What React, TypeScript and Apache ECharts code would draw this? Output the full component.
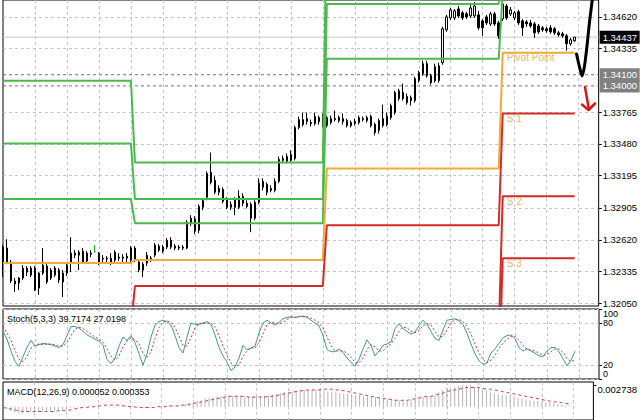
import React, { useEffect, useRef } from "react";
import * as echarts from "echarts";

// ---------------- data ----------------
const opens = [
  1.32411, 1.32545, 1.3242, 1.3225, 1.32232, 1.32277, 1.3233, 1.32303, 1.32366, 1.32187,
  1.32321, 1.32384, 1.32277, 1.32303, 1.32348, 1.32321, 1.32321, 1.3242, 1.32482, 1.32482,
  1.3242, 1.32429, 1.325, 1.32518, 1.325, 1.32447, 1.32455, 1.3242, 1.32438, 1.32464,
  1.32455, 1.32455, 1.32438, 1.32545, 1.3242, 1.32348, 1.32411, 1.32455, 1.32482, 1.32527,
  1.32554, 1.32554, 1.32616, 1.32563, 1.32554, 1.32545, 1.32545, 1.32768, 1.32804, 1.32706,
  1.32911, 1.33001, 1.33224, 1.33153, 1.33046, 1.33072, 1.32983, 1.32911, 1.32974, 1.32911,
  1.32947, 1.32947, 1.32938, 1.32813, 1.32956, 1.3309, 1.33117, 1.33063, 1.33063, 1.33144,
  1.33332, 1.33323, 1.33332, 1.33349, 1.33627, 1.33653, 1.3368, 1.33671, 1.33662, 1.33716,
  1.33725, 1.33644, 1.33671, 1.33707, 1.33716, 1.3368, 1.33689, 1.33671, 1.33662, 1.33671,
  1.33698, 1.33689, 1.33725, 1.33653, 1.336, 1.33644, 1.33653, 1.33716, 1.33761, 1.33886,
  1.3394, 1.33904, 1.33895, 1.33868, 1.34047, 1.34109, 1.34199, 1.34091, 1.34172, 1.34047,
  1.34208, 1.34503, 1.3461, 1.3461, 1.3469, 1.34655, 1.34646, 1.34628, 1.34628, 1.34637,
  1.34583, 1.34619, 1.34556, 1.34646, 1.34565, 1.34601, 1.34717, 1.34646, 1.3461, 1.34664,
  1.34583, 1.34574, 1.34565, 1.34556, 1.34538, 1.34521, 1.34512, 1.34521, 1.34512, 1.34476,
  1.34467, 1.34449, 1.34378, 1.34404,
];
const closes = [
  1.32554, 1.3242, 1.3225, 1.32223, 1.32277, 1.32366, 1.32366, 1.32366, 1.32169, 1.32321,
  1.32393, 1.32241, 1.32348, 1.32366, 1.32259, 1.32241, 1.32393, 1.325, 1.325, 1.32509,
  1.32518, 1.325, 1.32491, 1.32518, 1.3242, 1.32455, 1.32447, 1.32455, 1.32509, 1.32455,
  1.32464, 1.32473, 1.32545, 1.32438, 1.32348, 1.32402, 1.32482, 1.32447, 1.32572, 1.32563,
  1.32518, 1.32616, 1.32554, 1.32545, 1.32545, 1.32554, 1.32777, 1.32813, 1.32697, 1.3292,
  1.32974, 1.33215, 1.33135, 1.33046, 1.33081, 1.32965, 1.32911, 1.32938, 1.32911, 1.3301,
  1.3301, 1.3292, 1.32813, 1.32956, 1.33126, 1.33144, 1.33046, 1.33081, 1.33144, 1.33341,
  1.33349, 1.33367, 1.33385, 1.33627, 1.33698, 1.33698, 1.33707, 1.33662, 1.33725, 1.3368,
  1.33653, 1.33716, 1.33707, 1.33698, 1.33689, 1.33707, 1.33644, 1.33644, 1.3368, 1.33716,
  1.33707, 1.33716, 1.33644, 1.33582, 1.33689, 1.33707, 1.33725, 1.33823, 1.3394, 1.33957,
  1.33886, 1.3385, 1.33868, 1.34065, 1.34118, 1.34199, 1.34091, 1.34029, 1.34047, 1.34181,
  1.34512, 1.34619, 1.34682, 1.34673, 1.34628, 1.3461, 1.34619, 1.34699, 1.34717, 1.34521,
  1.34521, 1.34565, 1.34646, 1.34556, 1.34449, 1.34735, 1.3461, 1.34682, 1.34655, 1.34565,
  1.34521, 1.34556, 1.34538, 1.34476, 1.34485, 1.34503, 1.34494, 1.34485, 1.34476, 1.34458,
  1.34449, 1.34378, 1.34413, 1.34437,
];
const lows = [
  1.32286, 1.32402, 1.32232, 1.32152, 1.32169, 1.32259, 1.32295, 1.32286, 1.3216, 1.32125,
  1.32303, 1.32223, 1.32259, 1.32286, 1.32232, 1.32107, 1.32295, 1.3233, 1.32455, 1.32348,
  1.32411, 1.32411, 1.32464, 1.325, 1.32393, 1.3242, 1.3242, 1.32393, 1.3242, 1.32429,
  1.3242, 1.3242, 1.3242, 1.3242, 1.3233, 1.32286, 1.32384, 1.3242, 1.32464, 1.32509,
  1.325, 1.32536, 1.32536, 1.32527, 1.32527, 1.32527, 1.32536, 1.32742, 1.3267, 1.32679,
  1.32885, 1.32974, 1.33117, 1.33028, 1.33019, 1.32947, 1.32894, 1.32885, 1.3284, 1.32894,
  1.3292, 1.32902, 1.32688, 1.32795, 1.32938, 1.33063, 1.33019, 1.33046, 1.33046, 1.33126,
  1.33305, 1.33305, 1.33314, 1.33332, 1.33609, 1.33636, 1.33653, 1.33636, 1.33644, 1.33653,
  1.33627, 1.33627, 1.33653, 1.3368, 1.33671, 1.33653, 1.33627, 1.33627, 1.33644, 1.33653,
  1.3368, 1.33671, 1.33627, 1.33555, 1.33573, 1.33627, 1.33636, 1.33698, 1.33743, 1.33868,
  1.33868, 1.33832, 1.33823, 1.3385, 1.34029, 1.34091, 1.34074, 1.34011, 1.34029, 1.34029,
  1.3419, 1.34485, 1.34592, 1.34592, 1.3461, 1.34592, 1.34601, 1.3461, 1.3461, 1.34503,
  1.34449, 1.34547, 1.34538, 1.34538, 1.34422, 1.34583, 1.34592, 1.34628, 1.34592, 1.34547,
  1.34449, 1.3453, 1.34521, 1.34431, 1.34467, 1.34485, 1.34476, 1.34467, 1.34458, 1.3444,
  1.34431, 1.34315, 1.3436, 1.34395,
];
const highs = [
  1.32572, 1.32625, 1.32438, 1.32277, 1.32286, 1.32393, 1.32384, 1.32384, 1.32384, 1.3233,
  1.32545, 1.32402, 1.32366, 1.32384, 1.32366, 1.32348, 1.3242, 1.32643, 1.32527, 1.32527,
  1.32545, 1.32518, 1.32527, 1.32572, 1.32509, 1.32482, 1.32473, 1.325, 1.32527, 1.325,
  1.32491, 1.325, 1.32563, 1.32563, 1.32438, 1.3242, 1.32509, 1.32473, 1.3259, 1.32581,
  1.32572, 1.32634, 1.32643, 1.32581, 1.32572, 1.32572, 1.32795, 1.3284, 1.32831, 1.32938,
  1.32992, 1.33233, 1.33403, 1.33189, 1.33108, 1.3309, 1.33001, 1.32965, 1.33001, 1.33063,
  1.33037, 1.32974, 1.32956, 1.32974, 1.33171, 1.33171, 1.33135, 1.33108, 1.33171, 1.33367,
  1.33376, 1.33394, 1.33421, 1.33644, 1.33725, 1.33761, 1.33761, 1.33698, 1.33761, 1.33734,
  1.33752, 1.33734, 1.33734, 1.33779, 1.33734, 1.33752, 1.33707, 1.33689, 1.33707, 1.33734,
  1.33725, 1.33734, 1.33743, 1.33671, 1.33707, 1.33832, 1.33761, 1.33841, 1.33957, 1.33975,
  1.3402, 1.33931, 1.33913, 1.34083, 1.34136, 1.34226, 1.34226, 1.34109, 1.34199, 1.34208,
  1.3453, 1.34637, 1.34699, 1.3469, 1.34717, 1.34673, 1.34664, 1.34726, 1.34753, 1.34673,
  1.34601, 1.34637, 1.34664, 1.34664, 1.34583, 1.34762, 1.34735, 1.34708, 1.34673, 1.34682,
  1.34601, 1.34592, 1.34592, 1.34574, 1.34556, 1.34538, 1.3453, 1.34547, 1.3453, 1.34494,
  1.34485, 1.34467, 1.34431, 1.3444,
];
const greenDojiBars = [23];

// daily pivot levels (day 1..4) and the bar where each day starts
const dayStarts = [0, 33, 81, 125];
const levelR3 = [1.34047, 1.33314, 1.356, 1.365];
const levelR2 = [1.33484, 1.32985, 1.34735, 1.3539];
const levelR1 = [1.32985, 1.32768, 1.34243, 1.34843];
const levelP = [1.32411, 1.32438, 1.3326, 1.34297];
const levelS1 = [1.31833, 1.32205, 1.3275, 1.33752];
const levelS2 = [1.313, 1.317, 1.31767, 1.3301];
const levelS3 = [1.308, 1.312, 1.313, 1.32455];
const levelNames = ["Pivot Point", "S 1", "S 2", "S 3"];

// user drawn horizontal levels
const userLevels = [1.341, 1.34];

// axis tick labels
const priceTicks = [1.3205, 1.32335, 1.3262, 1.32905, 1.33195, 1.3348, 1.33765, 1.34335, 1.3462];
const stochTicks = [0, 20, 80, 100];
const macdTicks = [0.002738];

// Stochastic (5,3,3)
const stochK = [
  68, 57, 40, 25, 18, 32, 45, 55, 47, 49, 51, 50, 49, 47, 45, 49, 62, 75, 75, 73,
  68, 63, 60, 57, 54, 48, 28, 22, 30, 47, 60, 55, 62, 52, 36, 20, 36, 60, 77, 82,
  84, 82, 77, 62, 45, 37, 60, 80, 78, 78, 80, 82, 78, 63, 45, 33, 24, 12, 17, 30,
  48, 42, 44, 47, 66, 80, 84, 80, 77, 81, 86, 88, 89, 88, 89, 90, 88, 84, 80, 76,
  62, 42, 39, 39, 43, 38, 30, 24, 18, 28, 43, 56, 48, 33, 40, 48, 50, 53, 72, 79,
  72, 68, 64, 67, 76, 84, 78, 68, 58, 55, 70, 84, 85, 86, 83, 78, 65, 50, 36, 26,
  21, 23, 37, 43, 51, 59, 62, 63, 58, 45, 40, 43, 40, 37, 33, 32, 40, 45, 45, 39,
  29, 19, 27, 39.7174,
];
const stochD = [
  75, 66, 55, 41, 28, 25, 32, 44, 49, 50, 49, 50, 50, 49, 47, 47, 52, 62, 71, 74,
  72, 68, 64, 60, 57, 53, 43, 33, 27, 33, 46, 54, 59, 56, 50, 36, 31, 39, 58, 73,
  81, 83, 81, 74, 61, 48, 47, 59, 73, 79, 79, 80, 80, 74, 62, 47, 34, 23, 18, 20,
  32, 40, 45, 44, 52, 64, 77, 81, 80, 79, 81, 85, 88, 88, 89, 89, 89, 87, 84, 80,
  73, 60, 48, 40, 40, 40, 37, 31, 24, 23, 30, 42, 49, 46, 40, 40, 46, 50, 58, 68,
  74, 73, 68, 66, 69, 76, 79, 77, 68, 60, 61, 70, 80, 85, 85, 82, 75, 64, 50, 37,
  28, 23, 27, 34, 44, 51, 57, 61, 61, 55, 48, 43, 41, 40, 37, 34, 35, 39, 43, 43,
  38, 29, 25, 27.0198,
];

// MACD (12,26,9)
const macdMain = [
  -0.0002, -0.0003, -0.0005, -0.0007, -0.0008, -0.0008, -0.0007, -0.0006, -0.0007, -0.0007,
  -0.0006, -0.0006, -0.0006, -0.0005, -0.0005, -0.0005, -0.0004, -0.0002, -0.0001, -0.0001,
  0, 0, 0, 0.0001, 0, 0, 0, -0.0001, -0.0001, 0,
  0, 0, 0.0001, 0, -0.0001, -0.0002, -0.0002, -0.0001, 0, 0,
  0, 0.0001, 0.0001, 0.0001, 0.0001, 0.0001, 0.0003, 0.0004, 0.0005, 0.0007,
  0.0008, 0.001, 0.0011, 0.0012, 0.0013, 0.0013, 0.0013, 0.0014, 0.0014, 0.0014,
  0.0014, 0.0013, 0.0013, 0.0013, 0.0013, 0.0013, 0.0014, 0.0014, 0.0015, 0.0016,
  0.0017, 0.0018, 0.0018, 0.0019, 0.002, 0.002, 0.0021, 0.0021, 0.0021, 0.0021,
  0.002, 0.002, 0.0019, 0.0019, 0.0018, 0.0017, 0.0017, 0.0016, 0.0016, 0.0015,
  0.0015, 0.0014, 0.0013, 0.0012, 0.0012, 0.0011, 0.0011, 0.001, 0.001, 0.0009,
  0.0008, 0.0007, 0.0008, 0.0009, 0.001, 0.0011, 0.0012, 0.0012, 0.0013, 0.0014,
  0.0018, 0.0021, 0.0023, 0.0024, 0.0025, 0.0026, 0.0026, 0.0027, 0.002738, 0.0025,
  0.0023, 0.0022, 0.002, 0.0019, 0.0017, 0.0016, 0.0015, 0.0014, 0.0014, 0.0012,
  0.0011, 0.001, 0.0009, 0.0008, 0.0007, 0.0007, 0.0006, 0.0005, 0.0005, 0.0004,
  0.0003, 0.0002, 0.0001, 0.000052,
];
const macdSignal = [
  -0.0001, -0.0002, -0.0003, -0.0004, -0.0005, -0.0006, -0.0006, -0.0006, -0.0006, -0.0006,
  -0.0006, -0.0006, -0.0006, -0.0006, -0.0005, -0.0005, -0.0005, -0.0004, -0.0003, -0.0002,
  -0.0001, -0.0001, 0, 0, 0.0001, 0.0001, 0.0002, 0.0002, 0.0002, 0.0002,
  0.0001, 0.0001, 0, 0, -0.0001, -0.0001, -0.0001, -0.0001, -0.0001, 0,
  0, 0, 0.0001, 0.0001, 0.0001, 0.0002, 0.0002, 0.0003, 0.0004, 0.0005,
  0.0006, 0.0007, 0.0008, 0.0009, 0.001, 0.0011, 0.0012, 0.0013, 0.0013, 0.0013,
  0.0013, 0.0013, 0.0012, 0.0012, 0.0012, 0.0012, 0.0012, 0.0013, 0.0013, 0.0014,
  0.0015, 0.0016, 0.0017, 0.0018, 0.0019, 0.002, 0.002, 0.0021, 0.0021, 0.0021,
  0.0021, 0.0022, 0.0022, 0.0022, 0.0021, 0.0021, 0.002, 0.0019, 0.0018, 0.0017,
  0.0016, 0.0015, 0.0014, 0.0013, 0.0012, 0.0011, 0.001, 0.001, 0.0009, 0.0008,
  0.0008, 0.0008, 0.0008, 0.0009, 0.001, 0.0011, 0.0012, 0.0013, 0.0013, 0.0014,
  0.0016, 0.0017, 0.0019, 0.002, 0.0021, 0.0022, 0.0023, 0.0024, 0.0024, 0.0024,
  0.0024, 0.0023, 0.0022, 0.0022, 0.0021, 0.002, 0.0019, 0.0018, 0.0017, 0.0016,
  0.0015, 0.0014, 0.0013, 0.0012, 0.0011, 0.001, 0.0009, 0.0008, 0.0007, 0.0006,
  0.0006, 0.0005, 0.0004, 0.000353,
];

// ---------------- layout / style ----------------
const SLOTS = 150;
const FONT = "'Liberation Sans', Arial, sans-serif";
const AXIS_FONT = "'Liberation Sans Narrow', 'Arial Narrow', 'Liberation Sans', Arial, sans-serif";
const GRID_LINE = { color: "#c4c4c4", type: [3, 3] as number[], width: 1 };
const GREEN = "#4cb94c";
const ORANGE = "#eeaa3a";
const RED = "#d42a2a";
const LABEL_TAN = "#e2b865";

function dayOf(i: number) {
  let d = 0;
  for (let k = 0; k < dayStarts.length; k++) if (i >= dayStarts[k]) d = k;
  return d;
}

export default function App() {
  const ref = useRef<HTMLDivElement>(null);

  useEffect(() => {
    if (!ref.current) return;
    const chart = echarts.init(ref.current, null, { renderer: "svg" });
    const cats = Array.from({ length: SLOTS }, (_, i) => String(i));
    const last = closes.length - 1;

    const candleData = opens.map((o, i) => {
      const v = [o, closes[i], lows[i], highs[i]];
      if (greenDojiBars.includes(i)) {
        return {
          value: v,
          itemStyle: { color: "#22b022", color0: "#22b022", borderColor: "#22b022", borderColor0: "#22b022" },
        };
      }
      return v;
    });

    const levelData = (vals: number[]) => opens.map((_, i) => vals[dayOf(i)]);
    const lastDay = dayStarts[dayStarts.length - 1] + 1;

    const levelSeries = (vals: number[], color: string, label?: string) => ({
      type: "line",
      xAxisIndex: 0,
      yAxisIndex: 0,
      data: levelData(vals),
      showSymbol: false,
      symbol: "none",
      silent: true,
      clip: true,
      z: 4,
      lineStyle: { color, width: 2 },
      itemStyle: { color },
      markPoint: label
        ? {
            symbol: "circle",
            symbolSize: 0,
            silent: true,
            data: [
              {
                coord: [lastDay, vals[vals.length - 1]],
                label: {
                  show: true,
                  position: "bottom",
                  distance: 0,
                  align: "left",
                  verticalAlign: "top",
                  formatter: label,
                  color: LABEL_TAN,
                  fontSize: 10,
                  fontFamily: FONT,
                },
              },
            ],
          }
        : undefined,
    });

    // horizontal level drawn as a flat line across every slot, with its price tag at the axis
    const hLevelSeries = (value: number, color: string, type: any, tagBg: string) => ({
      type: "line",
      xAxisIndex: 0,
      yAxisIndex: 0,
      data: cats.map(() => value),
      showSymbol: false,
      symbol: "none",
      silent: true,
      z: 2,
      lineStyle: { color, width: 1, type },
      endLabel: {
        show: true,
        distance: 1,
        formatter: value.toFixed(5),
        color: "#fff",
        backgroundColor: tagBg,
        width: 37,
        padding: [2, 0, 1, 3],
        fontSize: 9.5,
        fontFamily: AXIS_FONT,
      },
    });

    const xAxisFor = (gridIndex: number) => ({
      type: "category",
      gridIndex,
      data: cats,
      boundaryGap: false,
      axisLine: { show: false },
      axisTick: { show: false },
      axisLabel: { show: false },
      splitLine: {
        show: true,
        interval: (idx: number) => idx > 0 && idx % 8 === 0,
        lineStyle: GRID_LINE,
      },
    });

    const gridBase = {
      left: 3,
      width: 596,
      show: true,
      borderColor: "#000",
      borderWidth: 1,
      backgroundColor: "#fff",
      containLabel: false,
    };

    const option: any = {
      animation: false,
      backgroundColor: "#fff",
      textStyle: { fontFamily: FONT },
      grid: [
        { ...gridBase, top: -1, height: 307 },
        { ...gridBase, top: 309, height: 70 },
        { ...gridBase, top: 382, height: 60 },
      ],
      xAxis: [xAxisFor(0), xAxisFor(1), xAxisFor(2)],
      yAxis: [
        {
          type: "value",
          gridIndex: 0,
          position: "right",
          min: 1.320259,
          max: 1.347704,
          axisLine: { show: false },
          axisTick: { show: true, length: 3, customValues: priceTicks, lineStyle: { color: "#000" } },
          axisLabel: {
            customValues: priceTicks,
            formatter: (v: number) => v.toFixed(5),
            color: "#000",
            fontSize: 9.5,
            fontFamily: AXIS_FONT,
            margin: 4,
          },
          splitLine: { show: true, lineStyle: GRID_LINE },
        },
        {
          type: "value",
          gridIndex: 1,
          position: "right",
          min: 0,
          max: 100,
          axisLine: { show: false },
          axisTick: { show: true, length: 3, customValues: stochTicks, lineStyle: { color: "#000" } },
          axisLabel: {
            customValues: stochTicks,
            showMinLabel: true,
            showMaxLabel: true,
            hideOverlap: false,
            formatter: (v: number) => (v === 100 ? "{t|100}" : v === 0 ? "{b|0}" : "{m|" + v + "}"),
            margin: 4,
            rich: {
              t: { fontSize: 9, lineHeight: 9, fontFamily: AXIS_FONT, color: "#000", padding: [10, 0, 0, 0] },
              b: { fontSize: 9, lineHeight: 9, fontFamily: AXIS_FONT, color: "#000", padding: [0, 0, 10, 0] },
              m: { fontSize: 9, lineHeight: 9, fontFamily: AXIS_FONT, color: "#000" },
            },
          },
          splitLine: { show: true, lineStyle: GRID_LINE },
        },
        {
          type: "value",
          gridIndex: 2,
          position: "right",
          min: -0.001667,
          max: 0.003095,
          axisLine: { show: false },
          axisTick: { show: true, length: 3, customValues: macdTicks, lineStyle: { color: "#000" } },
          axisLabel: {
            customValues: macdTicks,
            formatter: (v: number) => v.toFixed(6),
            color: "#000",
            fontSize: 9.5,
            fontFamily: AXIS_FONT,
            margin: 4,
            verticalAlign: "top",
          },
          splitLine: { show: false },
        },
      ],
      series: [
        hLevelSeries(closes[last], "#c8c8c8", "solid", "#000"),
        ...userLevels.map((v) => hLevelSeries(v, "#707070", [3, 3], "#808080")),
        {
          type: "candlestick",
          xAxisIndex: 0,
          yAxisIndex: 0,
          data: candleData,
          barWidth: 2,
          clip: true,
          z: 3,
          itemStyle: {
            color: "#fff",
            color0: "#000",
            borderColor: "#000",
            borderColor0: "#000",
            borderWidth: 1,
          },
        },
        levelSeries(levelR3, GREEN),
        levelSeries(levelR2, GREEN),
        levelSeries(levelR1, GREEN),
        levelSeries(levelP, ORANGE, levelNames[0]),
        levelSeries(levelS1, RED, levelNames[1]),
        levelSeries(levelS2, RED, levelNames[2]),
        levelSeries(levelS3, RED, levelNames[3]),
        {
          type: "line",
          xAxisIndex: 1,
          yAxisIndex: 1,
          data: stochK,
          showSymbol: false,
          symbol: "none",
          lineStyle: { color: "#3f9a88", width: 1 },
          z: 3,
        },
        {
          type: "line",
          xAxisIndex: 1,
          yAxisIndex: 1,
          data: stochD,
          showSymbol: false,
          symbol: "none",
          lineStyle: { color: "#c83c3c", width: 1, type: [2, 2] },
          z: 4,
        },
        {
          type: "bar",
          xAxisIndex: 2,
          yAxisIndex: 2,
          data: macdMain,
          barWidth: 1,
          itemStyle: { color: "#b4b4b4" },
          z: 2,
        },
        {
          type: "line",
          xAxisIndex: 2,
          yAxisIndex: 2,
          data: macdSignal,
          showSymbol: false,
          symbol: "none",
          lineStyle: { color: "#c83c3c", width: 1, type: [3, 3] },
          z: 4,
        },
      ],
      graphic: [
        {
          type: "text",
          x: 7,
          y: 319,
          z: 10,
          style: {
            text: `Stoch(5,3,3) ${stochK[last].toFixed(4)} ${stochD[last].toFixed(4)}`,
            fill: "#000",
            font: `9px ${FONT}`,
            verticalAlign: "middle",
          },
        },
        {
          type: "text",
          x: 7,
          y: 392,
          z: 10,
          style: {
            text: `MACD(12,26,9) ${macdMain[last].toFixed(6)} ${macdSignal[last].toFixed(6)}`,
            fill: "#000",
            font: `9px ${FONT}`,
            verticalAlign: "middle",
          },
        },
        {
          type: "polyline",
          z: 20,
          shape: {
            points: [
              [576.5, 54],
              [579.5, 67],
              [582, 76],
              [584.5, 66],
              [587, 46],
              [589.5, 22],
              [592, 2],
              [592.5, -2],
            ],
            smooth: 0.2,
          },
          style: { stroke: "#000", lineWidth: 3, fill: null, lineCap: "round", lineJoin: "round" },
        },
        {
          type: "polyline",
          z: 20,
          shape: { points: [[585, 87], [588.5, 107]] },
          style: { stroke: "#d41818", lineWidth: 2.5, fill: null, lineCap: "round" },
        },
        {
          type: "polyline",
          z: 20,
          shape: { points: [[582, 104.5], [588.5, 110], [595, 103.5]] },
          style: { stroke: "#d41818", lineWidth: 2.5, fill: null, lineCap: "round", lineJoin: "round" },
        },
      ],
    };

    chart.setOption(option);
    return () => chart.dispose();
  }, []);

  return (
    <div
      ref={ref}
      style={{ position: "fixed", left: 0, top: 0, width: 640, height: 420, background: "#fff" }}
    />
  );
}
